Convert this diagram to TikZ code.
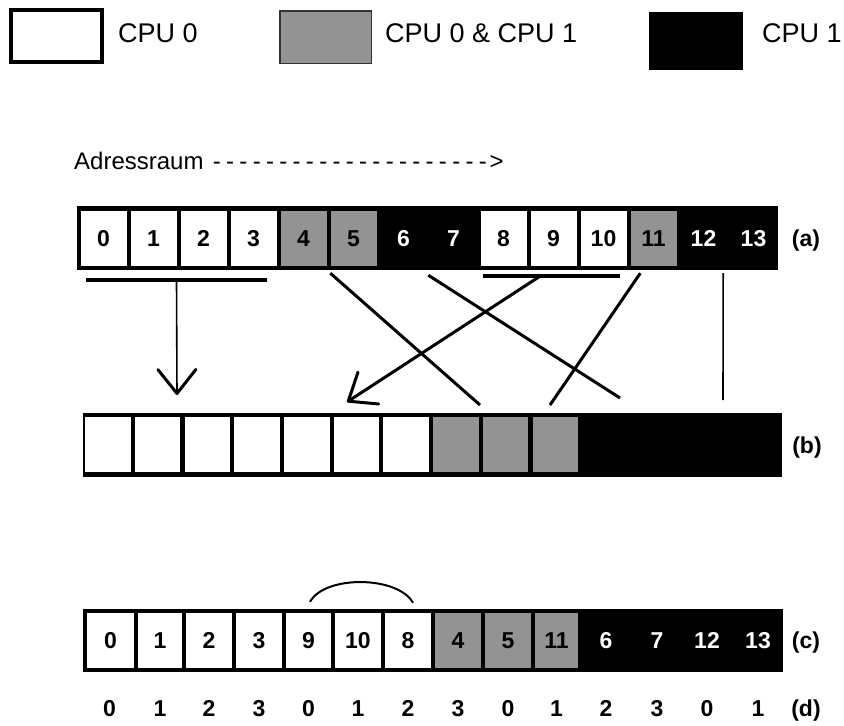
\documentclass[tikz,border=0pt]{standalone}
\usepackage{fontspec}
\setmainfont{Liberation Sans}
\usetikzlibrary{arrows.meta}
\definecolor{mixgray}{HTML}{939393}
\newcommand\cellfont{\fontsize{23}{23}\selectfont\bfseries}
\newcommand\keyfont{\fontsize{27}{27}\selectfont}
\newcommand\dsh{\makebox[13.3pt]{-}}
\begin{document}
\begin{tikzpicture}[x=1pt,y=-1pt,
  bar/.style={fill=black, draw=none, inner sep=0pt},
  cell/.style={draw=none, inner sep=0pt, minimum height=55pt, font=\cellfont,
    text height=16.5pt, text depth=0pt},
  wcell/.style={cell, fill=white, text=black},
  gcell/.style={cell, fill=mixgray, text=black},
  kcell/.style={cell, fill=black, text=white},
  label/.style={inner sep=0pt, font=\cellfont, text height=16.5pt, text depth=0pt},
  keytext/.style={anchor=west, inner sep=0pt, font=\keyfont},
  underline/.style={line width=3.5pt},
  link/.style={line width=3pt},
  thinlink/.style={line width=1.6pt},
  openhead/.style={-{Straight Barb[length=24pt,width=38pt,line width=3pt,round]}}
]
\useasboundingbox (0,0) rectangle (844,726);

% key
\node[draw, line width=4pt, fill=white, minimum width=91pt, minimum height=52pt, inner sep=0pt] (k0) at (56.5,36) {};
\node[keytext] (k0t) at (118,33) {CPU 0};
\node[draw=black!80, line width=1.5pt, fill=mixgray, minimum width=91.5pt, minimum height=52.5pt, inner sep=0pt] (k01) at (325.5,37) {};
\node[keytext] (k01t) at (385,33) {CPU 0 \& CPU 1};
\node[fill=black, minimum width=94pt, minimum height=58pt, inner sep=0pt] (k1) at (696,41) {};
\node[keytext] (k1t) at (762,33) {CPU 1};

% address space caption
\node[anchor=west, inner sep=0pt, font=\fontsize{24}{24}\selectfont] (addr) at (74,161)
  {Adressraum \dsh\dsh\dsh\dsh\dsh\dsh\dsh\dsh\dsh\dsh\dsh\dsh\dsh\dsh\dsh\dsh\dsh\dsh\dsh\dsh\dsh>};

% row (a): original order
\node[bar, minimum width=701pt, minimum height=64pt] (rowa) at (427.5,238) {};
\foreach \i/\s in {0/wcell,1/wcell,2/wcell,3/wcell,4/gcell,5/gcell,6/kcell,
                   7/kcell,8/wcell,9/wcell,10/wcell,11/gcell,12/kcell,13/kcell}
  \node[\s, minimum width=46pt] (a\i) at (103.5+50*\i,238.5) {\i};
\node[label] (la) at (806,238) {(a)};

% row (b): sorted by owner
\node[bar, minimum width=699pt, minimum height=64pt] (rowb) at (432.5,445) {};
\foreach \i/\s in {0/wcell,1/wcell,2/wcell,3/wcell,4/wcell,5/wcell,6/wcell,
                   7/gcell,8/gcell,9/gcell}
  \node[\s, minimum width=45.5pt] (b\i) at (108+49.7*\i,444.5) {};
\node[label] (lb) at (807,445) {(b)};

% row (c): reordered layout
\node[bar, minimum width=700pt, minimum height=63pt] (rowc) at (433,640.5) {};
\foreach \i/\x/\w/\t/\s in {0/110.5/47/0/wcell,1/160/44/1/wcell,2/209/46/2/wcell,
    3/259/46/3/wcell,4/308.5/45/9/wcell,5/358/46/10/wcell,6/408/46/8/wcell,
    7/458/46/4/gcell,8/508/46/5/gcell,9/556.5/43/11/gcell,
    10/606/46/6/kcell,11/657/46/7/kcell,12/707/46/12/kcell,13/758/46/13/kcell}
  \node[\s, minimum width=\w pt] (c\i) at (\x,640.5) {\t};
\node[label] (lc) at (806,640.5) {(c)};

% row (d): index within each block
\foreach \i/\x/\t in {0/109.5/0,1/160/1,2/209/2,3/259/3,4/308.5/0,5/358/1,6/408/2,
    7/458/3,8/508/0,9/556.5/1,10/606/2,11/657/3,12/707/0,13/758/1}
  \node[label] (d\i) at (\x,708) {\t};
\node[label] (ld) at (806,708) {(d)};

% groups in row (a)
\draw[underline] ([xshift=6pt,yshift=-14pt]a0.south west) -- coordinate[pos=0.5] (m1) ([xshift=-10pt,yshift=-14pt]a3.south east);
\draw[underline] ([xshift=2.5pt,yshift=-10pt]a8.south west) -- coordinate[pos=0.416] (m2) ([xshift=-6.5pt,yshift=-10pt]a10.south east);

% free ends above row (b)
\coordinate (t1) at (177,395);
\coordinate (t2) at (347,402);
\coordinate (e1) at (480,405);
\coordinate (e2) at (620,398);
\coordinate (e4) at (550,405);
\coordinate (e5) at (723,400);

% connectors
\draw[thinlink, openhead] (m1) -- (t1);
\draw[link, openhead] (m2) -- (t2);
\draw[link] ([yshift=-7pt]a5.south west) -- (e1);
\draw[link] ([xshift=-2pt,yshift=-9pt]a7.south west) -- (e2);
\draw[link] ([xshift=10pt,yshift=-7pt]a11.south west) -- (e4);
\draw[thinlink] ([xshift=-3.5pt,yshift=-7pt]a12.south east) -- (e5);

% swap in row (c)
\draw[line width=2pt] ([xshift=1.5pt,yshift=11pt]c4.north) .. controls +(15,-27) and +(-15,-27) .. ([xshift=5pt,yshift=10pt]c6.north);
\end{tikzpicture}
\end{document}
